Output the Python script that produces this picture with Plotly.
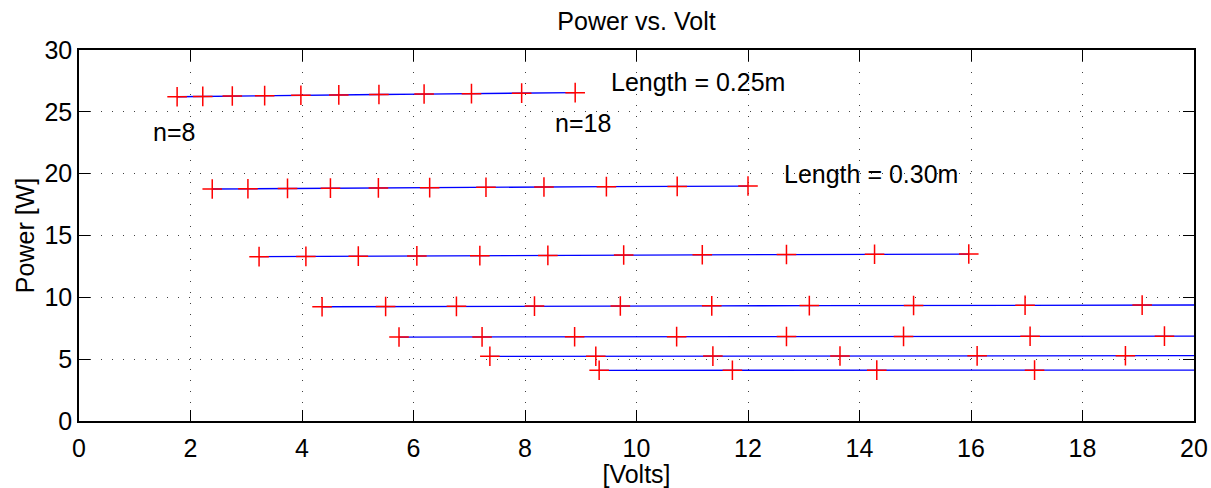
import plotly.graph_objects as go

# ---- data ----
s1_x = [1.76, 2.22, 2.75, 3.33, 3.98, 4.66, 5.38, 6.19, 7.04, 7.94, 8.90]
s1_y = [26.22, 26.25, 26.28, 26.31, 26.34, 26.37, 26.40, 26.44, 26.47, 26.51, 26.55]

s2_x = [2.39, 3.03, 3.74, 4.51, 5.37, 6.29, 7.30, 8.34, 9.46, 10.73, 12.00]
s2_y = [18.76, 18.78, 18.81, 18.83, 18.85, 18.87, 18.90, 18.92, 18.95, 18.97, 19.00]

s3_x = [3.23, 4.07, 5.01, 6.06, 7.19, 8.41, 9.77, 11.18, 12.69, 14.27, 15.96]
s3_y = [13.29, 13.31, 13.33, 13.35, 13.37, 13.39, 13.42, 13.44, 13.46, 13.48, 13.50]

s4_x = [4.36, 5.50, 6.77, 8.17, 9.71, 11.35, 13.10, 14.97, 16.97, 19.07, 21.29]
s4_y = [9.24, 9.26, 9.27, 9.29, 9.30, 9.31, 9.33, 9.34, 9.36, 9.37, 9.39]

s5_x = [5.74, 7.23, 8.89, 10.72, 12.69, 14.79, 17.06, 19.47, 22.02]
s5_y = [6.79, 6.80, 6.81, 6.82, 6.83, 6.84, 6.85, 6.86, 6.87]

s6_x = [7.37, 9.27, 11.37, 13.65, 16.11, 18.77, 21.62]
s6_y = [5.23, 5.24, 5.25, 5.26, 5.27, 5.28, 5.29]

s7_x = [9.33, 11.72, 14.31, 17.14, 20.19, 23.45]
s7_y = [4.10, 4.10, 4.11, 4.11, 4.12, 4.12]

series = [(s1_x, s1_y), (s2_x, s2_y), (s3_x, s3_y), (s4_x, s4_y),
          (s5_x, s5_y), (s6_x, s6_y), (s7_x, s7_y)]

x_ticks = [0, 2, 4, 6, 8, 10, 12, 14, 16, 18, 20]
y_ticks = [0, 5, 10, 15, 20, 25, 30]

labels = [
    ("Length = 0.25m", 9.50, 27.44),
    ("Length = 0.30m", 12.61, 19.95),
    ("n=8", 1.29, 23.39),
    ("n=18", 8.51, 24.07),
]

FONT = "Liberation Sans, Arial, Helvetica, sans-serif"
FS = 25

fig = go.Figure()
for xs, ys in series:
    fig.add_trace(go.Scatter(x=xs, y=ys, mode="lines",
                             line=dict(color="#0000ff", width=1.3),
                             showlegend=False, hoverinfo="skip"))
    fig.add_trace(go.Scatter(x=xs, y=ys, mode="markers",
                             marker=dict(symbol="cross-thin", size=14,
                                         line=dict(color="#ff0000", width=1.5)),
                             showlegend=False))

for txt, lx, ly in labels:
    fig.add_annotation(x=lx, y=ly, text=txt, showarrow=False,
                       xanchor="left", yanchor="middle",
                       font=dict(family=FONT, size=FS, color="black"))

axis_common = dict(
    showline=True, linecolor="black", linewidth=1.5, mirror="ticks",
    ticks="inside", ticklen=11, tickwidth=1, tickcolor="black",
    showgrid=True, gridcolor="rgba(0,0,0,0.75)", gridwidth=1,
    griddash="1px,10px", zeroline=False,
    tickfont=dict(family=FONT, size=FS, color="black"),
)

fig.update_xaxes(range=[0, 20], tickvals=x_ticks, ticktext=[str(v) for v in x_ticks],
                 ticklabelstandoff=4,
                 title=dict(text="[Volts]", font=dict(family=FONT, size=FS, color="black"),
                            standoff=8),
                 **axis_common)
fig.update_yaxes(range=[0, 30], tickvals=y_ticks, ticktext=[str(v) for v in y_ticks],
                 title=dict(text="Power [W]", font=dict(family=FONT, size=FS, color="black"),
                            standoff=3),
                 **axis_common)

fig.update_layout(
    width=1211, height=488,
    margin=dict(l=79, r=17, t=50, b=67, autoexpand=False),
    paper_bgcolor="white", plot_bgcolor="white",
    title=dict(text="Power vs. Volt", x=0.5, xanchor="center",
               y=1 - 21.5 / 488, yanchor="middle", xref="paper",
               font=dict(family=FONT, size=FS, color="black")),
    font=dict(family=FONT, size=FS, color="black"),
)

fig.write_html("out.html")
